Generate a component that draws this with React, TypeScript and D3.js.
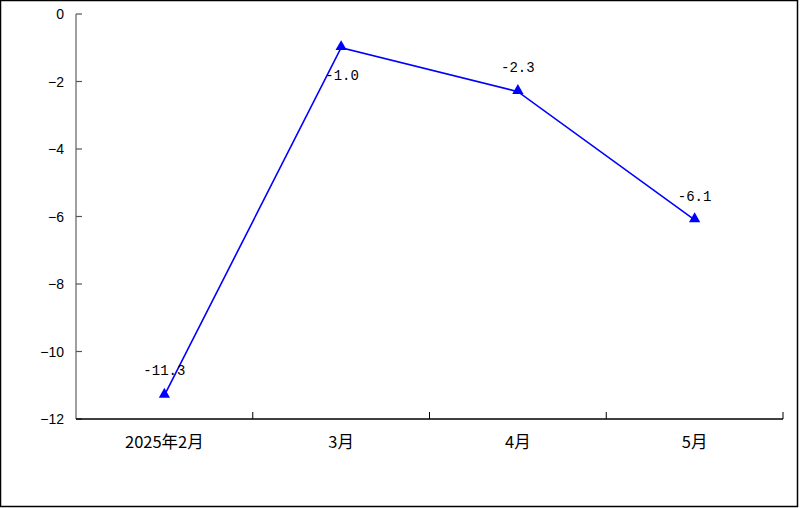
import React from "react";
import * as d3 from "d3";

const categories = ["2025年2月", "3月", "4月", "5月"];
const values = [-11.3, -1.0, -2.3, -6.1];
const valueLabels = ["-11.3", "-1.0", "-2.3", "-6.1"];
const yTicks = [0, -2, -4, -6, -8, -10, -12];

export default function App() {
  const W = 800, H = 508;
  const left = 76, right = 783, top = 14, bottom = 419;
  const x = d3.scaleBand<string>().domain(categories).range([left, right]);
  const y = d3.scaleLinear().domain([-12, 0]).range([bottom, top]);
  const cx = (c: string) => (x(c) as number) + x.bandwidth() / 2;
  const line = d3.line<number>().x((_, i) => cx(categories[i])).y((v) => y(v));
  const tri = d3.symbol().type(d3.symbolTriangle).size(55)();
  const labelDy = [-20, 32, -20, -19];
  const labelDx = [0, 1, 0, 0];
  return (
    <svg width={W} height={H} style={{ position: "absolute", left: 0, top: 0 }}>
      <rect x={0} y={0} width={W} height={H} fill="#fff" />
      <rect x={0.5} y={0.5} width={797} height={506} fill="none" stroke="#000" strokeWidth={1.5} />
      <line x1={left} x2={left} y1={top} y2={bottom} stroke="#7f7f7f" strokeWidth={1.5} />
      {yTicks.map((t) => (
        <g key={t}>
          <line x1={left} x2={left + 6} y1={y(t)} y2={y(t)} stroke="#555" strokeWidth={1.2} />
          <text x={64} y={y(t) + 5} textAnchor="end" fontFamily="Liberation Sans, Arial, sans-serif" fontSize={14} fill="#000">
            {t === 0 ? "0" : "\u2212" + Math.abs(t)}
          </text>
        </g>
      ))}
      <line x1={left} x2={right} y1={bottom} y2={bottom} stroke="#000" strokeWidth={1.5} />
      {categories.map((c) => (
        <line key={"t" + c} x1={(x(c) as number) + x.bandwidth()} x2={(x(c) as number) + x.bandwidth()} y1={bottom - 7} y2={bottom} stroke="#000" strokeWidth={1} />
      ))}
      {categories.map((c) => (
        <text key={"l" + c} x={cx(c)} y={448} textAnchor="middle" fontFamily="'Noto Sans CJK SC', sans-serif" fontSize={16.5} fill="#000">
          {c}
        </text>
      ))}
      <path d={line(values) || ""} fill="none" stroke="#0000ff" strokeWidth={1.6} />
      {values.map((v, i) => (
        <path key={"p" + i} d={tri || ""} transform={`translate(${cx(categories[i])},${y(v) - 1})`} fill="#0000ff" />
      ))}
      {values.map((v, i) => (
        <text key={"v" + i} x={cx(categories[i]) + labelDx[i]} y={y(v) + labelDy[i]} textAnchor="middle" fontFamily="'Liberation Mono', 'DejaVu Sans Mono', monospace" fontSize={14} fill="#000">
          {valueLabels[i]}
        </text>
      ))}
    </svg>
  );
}
